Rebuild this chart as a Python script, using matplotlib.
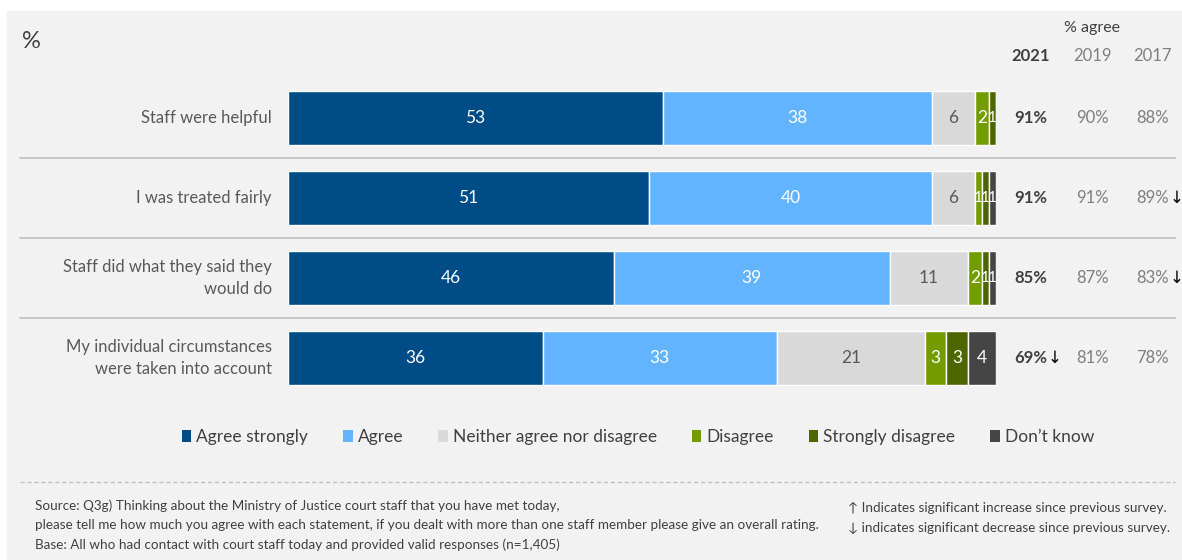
import matplotlib.pyplot as plt
from matplotlib.patches import Rectangle, Patch

plt.rcParams['font.family'] = ['Lato', 'DejaVu Sans']

categories = ['Staff were helpful', 'I was treated fairly',
              'Staff did what they said they\nwould do',
              'My individual circumstances\nwere taken into account']
agree_strongly = [53, 51, 46, 36]
agree = [38, 40, 39, 33]
neither = [6, 6, 11, 21]
disagree = [2, 1, 2, 3]
strongly_disagree = [1, 1, 1, 3]
dont_know = [0, 1, 1, 4]

years = ['2021', '2019', '2017']
pct_2021 = [91, 91, 85, 69]
pct_2019 = [90, 91, 87, 81]
pct_2017 = [88, 89, 83, 78]
arrow_2021 = ['', '', '', '↓']
arrow_2019 = ['', '', '', '']
arrow_2017 = ['', '↓', '↓', '']

series = [
    ('Agree strongly', agree_strongly, '#004c87', 'white'),
    ('Agree', agree, '#63b4ff', 'white'),
    ('Neither agree nor disagree', neither, '#d9d9d9', '#595959'),
    ('Disagree', disagree, '#739c00', 'white'),
    ('Strongly disagree', strongly_disagree, '#4d6600', 'white'),
    ('Don\u2019t know', dont_know, '#454545', 'white'),
]

W, H = 1182, 560
fig = plt.figure(figsize=(W / 100, H / 100), dpi=100, facecolor='white')
fig.patches.append(Rectangle((7 / W, 0), 1 - 7 / W, 1 - 11 / H,
                             transform=fig.transFigure, color='#f2f2f2', zorder=-10))

# bar area: 0-100% spans x 288..996 px, rows span y 78..398 px
ax = fig.add_axes([288 / W, 1 - 398 / H, 708 / W, 320 / H])
ax.set_xlim(0, 100)
ax.set_ylim(3.5, -0.5)
ax.axis('off')

rows = range(len(categories))
left = [0] * len(categories)
for name, vals, color, tcolor in series:
    ax.barh(rows, vals, left=left, height=0.67, color=color,
            edgecolor='white', linewidth=1)
    for i, v in enumerate(vals):
        if v > 0:
            ax.text(left[i] + v / 2, i, str(v), ha='center', va='center',
                    color=tcolor, fontsize=12.5 if v > 1 else 11)
    left = [l + v for l, v in zip(left, vals)]

for i, cat in enumerate(categories):
    ax.text(-2.3, i, cat, ha='right', va='center', color='#595959',
            fontsize=12, linespacing=1.45)

# separators between rows
for y in [0.5, 1.5, 2.5]:
    ax.plot([-37.9, 125.3], [y, y], color='#bfbfbf', lw=1.2, clip_on=False)

# % agree columns
col_x = [104.9, 113.6, 122.1]
col_vals = [pct_2021, pct_2019, pct_2017]
col_arrows = [arrow_2021, arrow_2019, arrow_2017]
header_y = -0.77
ax.text(113.6, -1.13, '% agree', ha='center', va='center', color='#404040',
        fontsize=11.5)
for j, (x, yr) in enumerate(zip(col_x, years)):
    bold = j == 0
    ax.text(x, header_y, yr, ha='center', va='center', fontsize=12,
            color='#404040' if bold else '#7f7f7f',
            fontweight='bold' if bold else 'normal')
    for i, (v, arr) in enumerate(zip(col_vals[j], col_arrows[j])):
        t = ax.text(x, i, f'{v}%', ha='center', va='center', fontsize=12,
                    color='#404040' if bold else '#7f7f7f',
                    fontweight='bold' if bold else 'normal')
        if arr:
            # significance arrow sits right after the percentage
            ax.annotate(arr, xy=(1, 0.5), xycoords=t, xytext=(0.5, 0),
                        textcoords='offset points', ha='left', va='center',
                        fontsize=12, color='black', family=['DejaVu Sans'])

fig.text(22 / W, 1 - 42 / H, '%', fontsize=17, color='#404040',
         ha='left', va='center')

handles = [Patch(facecolor=c, label=n) for n, _, c, _ in series]
fig.legend(handles=handles, loc='center', bbox_to_anchor=(638 / W, 1 - 437 / H),
           ncol=6, frameon=False, fontsize=12.5, handlelength=0.55,
           handleheight=0.75, handletextpad=0.3, columnspacing=2.0,
           labelcolor='#404040')

fig.add_artist(plt.Line2D([20 / W, 1175 / W], [1 - 482 / H, 1 - 482 / H],
                          transform=fig.transFigure, color='#bfbfbf',
                          lw=1, ls=(0, (3, 2))))

foot = ['Source: Q3g) Thinking about the Ministry of Justice court staff that you have met today,',
        'please tell me how much you agree with each statement, if you dealt with more than one staff member please give an overall rating.',
        'Base: All who had contact with court staff today and provided valid responses (n=1,405)']
for line, y in zip(foot, [506, 525, 545]):
    fig.text(35 / W, 1 - y / H, line, fontsize=9.7, color='#404040',
             ha='left', va='center')
fig.text(848 / W, 1 - 508 / H, '\u2191 Indicates significant increase since previous survey.',
         fontsize=9.7, color='#404040', ha='left', va='center')
fig.text(848 / W, 1 - 528 / H, '\u2193 indicates significant decrease since previous survey.',
         fontsize=9.7, color='#404040', ha='left', va='center')

fig.savefig('out.png', dpi=100, facecolor=fig.get_facecolor())
